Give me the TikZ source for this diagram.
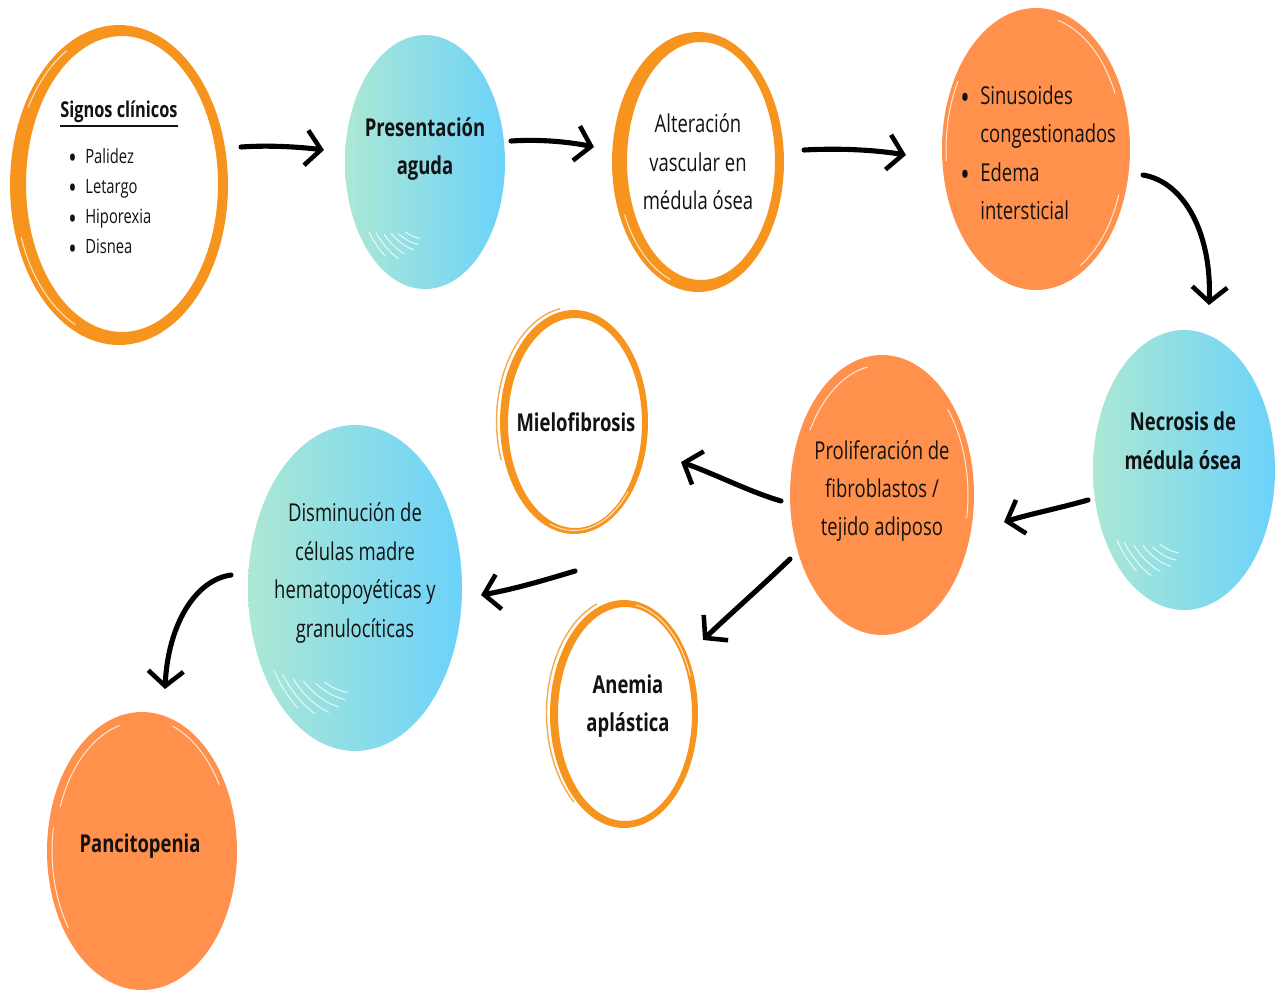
\documentclass[tikz,border=0pt]{standalone}
\usepackage{fontspec}
\setmainfont{Open Sans}[FakeStretch=0.75]
\usetikzlibrary{arrows.meta}
\definecolor{ringor}{RGB}{247,148,29}
\definecolor{fillor}{RGB}{255,145,77}
\definecolor{bluel}{RGB}{172,232,212}
\definecolor{bluer}{RGB}{108,210,250}
\definecolor{txt}{RGB}{18,18,18}
\newcommand{\bigbul}[3]{\makebox[#1][l]{\smash{\raisebox{#3}{\fontsize{#2}{#2}\selectfont •}}}}
\tikzset{
  arr/.style={line width=2.9pt, line cap=round, -{Straight Barb[length=8.5pt,width=20pt,line width=2.6pt]}},
  reg/.style={font=\fontsize{14}{21.9}\selectfont, text=txt, align=center, inner sep=0pt},
  bld/.style={font=\fontsize{14}{21.9}\selectfont\bfseries, text=txt, align=center, inner sep=0pt},
  small/.style={font=\fontsize{11.2}{17.1}\selectfont, text=txt, align=left, inner sep=0pt, anchor=west},
  ring/.style={fill=ringor, even odd rule},
  blob/.style={fill=fillor},
  bluefill/.style={left color=bluel, right color=bluer},
  scratch/.style={white, line width=0.55pt, line cap=round, opacity=0.8},
  rough/.style={ringor, line width=0.8pt, line cap=round, opacity=0.8},
}
\begin{document}
\begin{tikzpicture}[x=0.02cm,y=-0.02cm]
\useasboundingbox (0,0) rectangle (1282,995);
\fill[white] (0,0) rectangle (1282,995);

% ---- shapes ----
% Signos clinicos ring
\fill[ring] (119,185) ellipse [x radius=2.18cm, y radius=3.2cm]
            (122,184) ellipse [x radius=1.92cm, y radius=2.96cm];
\draw[scratch] (119,185) ++(200:2.08cm and 3.08cm) arc [start angle=200, end angle=245, x radius=2.08cm, y radius=3.08cm];
\draw[scratch] (119,185) ++(120:2.1cm and 3.1cm) arc [start angle=120, end angle=150, x radius=2.1cm, y radius=3.1cm];
% Presentacion aguda
\shade[bluefill] (425,162) ellipse [x radius=1.6cm, y radius=2.54cm];
\foreach \a/\b/\r in {218/236/1.42, 222/246/1.32, 228/250/1.22, 233/258/1.12, 240/262/1.04, 246/264/0.96}{
  \draw[scratch] (425,162) ++(\a:\r cm and 1.6*\r cm) arc [start angle=\a, end angle=\b, x radius=\r cm, y radius=1.6*\r cm];}
% Alteracion ring
\fill[ring] (698,162) ellipse [x radius=1.72cm, y radius=2.6cm]
            (701,161) ellipse [x radius=1.48cm, y radius=2.38cm];
\draw[scratch] (698,162) ++(205:1.62cm and 2.5cm) arc [start angle=205, end angle=250, x radius=1.62cm, y radius=2.5cm];
% Sinusoides
\fill[blob] (1036,149) ellipse [x radius=1.88cm, y radius=2.82cm];
\draw[scratch] (1036,149) ++(25:1.74cm and 2.66cm) arc [start angle=25, end angle=75, x radius=1.74cm, y radius=2.66cm];
\draw[scratch] (1036,149) ++(-60:1.76cm and 2.7cm) arc [start angle=-60, end angle=-20, x radius=1.76cm, y radius=2.7cm];
\draw[scratch] (1036,149) ++(150:1.8cm and 2.72cm) arc [start angle=150, end angle=185, x radius=1.8cm, y radius=2.72cm];
% Necrosis
\shade[bluefill] (1184,470) ellipse [x radius=1.82cm, y radius=2.8cm];
\foreach \a/\b/\r in {214/234/1.62, 218/244/1.52, 224/250/1.4, 230/258/1.28, 238/262/1.18, 244/264/1.08}{
  \draw[scratch] (1184,470) ++(\a:\r cm and 1.54*\r cm) arc [start angle=\a, end angle=\b, x radius=\r cm, y radius=1.54*\r cm];}
% Proliferacion
\fill[blob] (882,495) ellipse [x radius=1.84cm, y radius=2.8cm];
\draw[scratch] (882,495) ++(100:1.66cm and 2.6cm) arc [start angle=100, end angle=150, x radius=1.66cm, y radius=2.6cm];
\draw[scratch] (882,495) ++(-10:1.72cm and 2.66cm) arc [start angle=-10, end angle=40, x radius=1.72cm, y radius=2.66cm];
% Mielofibrosis ring
\fill[ring] (574,422) ellipse [x radius=1.48cm, y radius=2.24cm]
            (575,423) ellipse [x radius=1.34cm, y radius=2.1cm];
\draw[rough] (573,421) ++(100:1.53cm and 2.28cm) arc [start angle=100, end angle=200, x radius=1.53cm, y radius=2.28cm];
\draw[scratch] (574,422) ++(250:1.41cm and 2.17cm) arc [start angle=250, end angle=320, x radius=1.41cm, y radius=2.17cm];
% Anemia ring
\fill[ring] (624,714) ellipse [x radius=1.48cm, y radius=2.28cm]
            (625,714) ellipse [x radius=1.34cm, y radius=2.14cm];
\draw[rough] (623,713) ++(110:1.53cm and 2.32cm) arc [start angle=110, end angle=230, x radius=1.53cm, y radius=2.32cm];
\draw[scratch] (624,714) ++(20:1.41cm and 2.21cm) arc [start angle=20, end angle=80, x radius=1.41cm, y radius=2.21cm];
% Disminucion
\shade[bluefill] (355,588) ellipse [x radius=2.14cm, y radius=3.26cm];
\foreach \a/\b/\r in {214/234/1.95, 218/244/1.84, 224/252/1.72, 230/258/1.6, 238/262/1.48, 244/264/1.38}{
  \draw[scratch] (355,588) ++(\a:\r cm and 1.52*\r cm) arc [start angle=\a, end angle=\b, x radius=\r cm, y radius=1.52*\r cm];}
% Pancitopenia
\fill[blob] (142,851) ellipse [x radius=1.9cm, y radius=2.78cm];
\draw[scratch] (142,851) ++(105:1.74cm and 2.6cm) arc [start angle=105, end angle=160, x radius=1.74cm, y radius=2.6cm];
\draw[scratch] (142,851) ++(170:1.8cm and 2.68cm) arc [start angle=170, end angle=215, x radius=1.8cm, y radius=2.68cm];
\draw[scratch] (142,851) ++(30:1.78cm and 2.66cm) arc [start angle=30, end angle=70, x radius=1.78cm, y radius=2.66cm];

% ---- texts ----
\node[font=\fontsize{12.4}{15}\selectfont\bfseries, text=txt, inner sep=0pt] (sigT) at (119,112) {Signos clínicos};
\draw[txt, line width=1pt] (sigT.south west) ++(0,3) coordinate (ulA) -- (sigT.south east |- ulA) coordinate (ulB);
\node[small] (sigL) at (68,201) {\bigbul{0.34cm}{17}{-3.2pt}Palidez\\
  \bigbul{0.34cm}{17}{-3.2pt}Letargo\\
  \bigbul{0.34cm}{17}{-3.2pt}Hiporexia\\
  \bigbul{0.34cm}{17}{-3.2pt}Disnea};
\node[bld] (presT) at (425,149) {Presentación\\aguda};
\node[reg] (altT) at (698,162) {Alteración\\vascular en\\médula ósea};
\node[reg, align=left, anchor=west] (sinT) at (960,153) {\bigbul{0.4cm}{19}{-2.6pt}Sinusoides\\
  \hspace*{0.4cm}congestionados\\
  \bigbul{0.4cm}{19}{-2.6pt}Edema\\
  \hspace*{0.4cm}intersticial};
\node[bld] (necT) at (1183,441) {Necrosis de\\médula ósea};
\node[reg] (proT) at (882,491) {Proliferación de\\fibroblastos /\\tejido adiposo};
\node[bld] (mieT) at (576,422) {Mielofibrosis};
\node[bld] (aneT) at (628,706) {Anemia\\aplástica};
\node[reg] (disT) at (355,573) {Disminución de\\células madre\\hematopoyéticas y\\granulocíticas};
\node[bld] (panT) at (140,846) {Pancitopenia};

% ---- arrow ends ----
\coordinate (a1s) at (241,147); \coordinate (a1e) at (324,150);
\coordinate (a2s) at (511,141); \coordinate (a2e) at (594,147);
\coordinate (a3s) at (804,150); \coordinate (a3e) at (906,155);
\coordinate (a4s) at (1143,175); \coordinate (a4e) at (1209,305);
\coordinate (a5s) at (1088,500); \coordinate (a5e) at (1004,522);
\coordinate (a6s) at (781,501); \coordinate (a6e) at (681,462);
\coordinate (a7s) at (790,559); \coordinate (a7e) at (703,640);
\coordinate (a8s) at (575,571); \coordinate (a8e) at (481,595);
\coordinate (a9s) at (231,575); \coordinate (a9e) at (165,689);

% ---- arrows ----
\draw[arr] (a1s) .. controls (270,145) and (300,147) .. (a1e);
\draw[arr] (a2s) .. controls (540,139) and (570,142) .. (a2e);
\draw[arr] (a3s) .. controls (840,148) and (875,150) .. (a3e);
\draw[arr] (a4s) .. controls (1185,182) and (1212,235) .. (a4e);
\draw[arr] (a5s) .. controls (1060,508) and (1030,514) .. (a5e);
\draw[arr] (a6s) .. controls (750,492) and (715,474) .. (a6e);
\draw[arr] (a7s) .. controls (760,588) and (730,614) .. (a7e);
\draw[arr] (a8s) .. controls (545,580) and (515,589) .. (a8e);
\draw[arr] (a9s) .. controls (195,580) and (168,625) .. (a9e);
\end{tikzpicture}
\end{document}
